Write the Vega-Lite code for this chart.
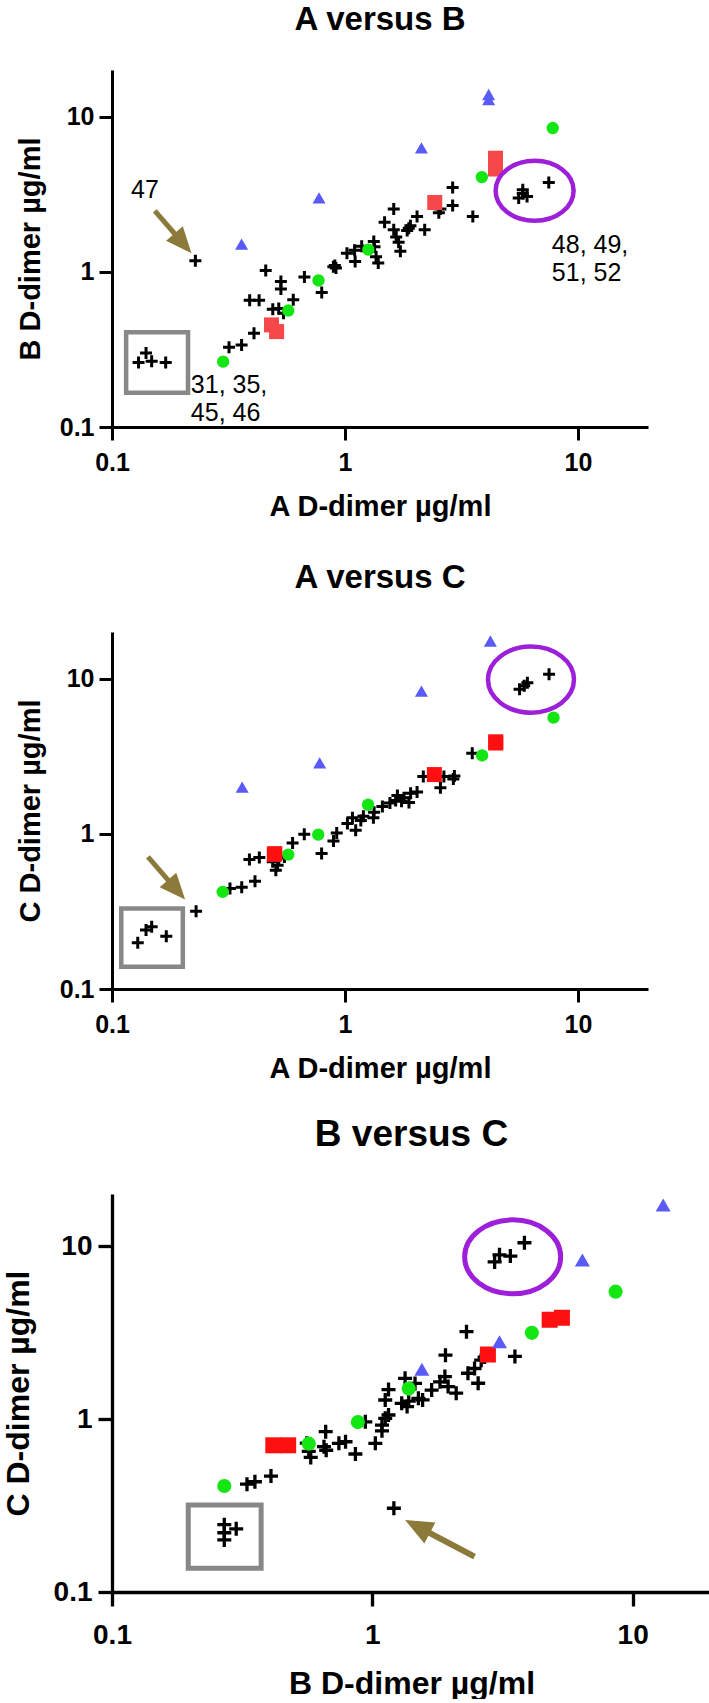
{
  "$schema": "https://vega.github.io/schema/vega-lite/v6.json",
  "background": "white",
  "padding": {"left": 2, "top": 4, "right": 0, "bottom": 0},
  "spacing": 205,
  "bounds": "flush",
  "config": {
    "view": {"stroke": null},
    "font": "Liberation Sans",
    "title": {"font": "Liberation Sans", "fontWeight": "bold", "color": "black", "anchor": "middle", "frame": "group"},
    "axis": {
      "grid": false, "domainColor": "black", "tickColor": "black",
      "labelFont": "Liberation Sans", "labelFontWeight": "bold", "labelColor": "black",
      "labelFlush": false, "labelOverlap": false,
      "titleFont": "Liberation Sans", "titleFontWeight": "bold", "titleColor": "black"
    }
  },
  "datasets": {
    "ab": [
      {"x":0.13,"y":0.26,"g":"k"},{"x":0.14,"y":0.30,"g":"k"},{"x":0.148,"y":0.265,"g":"k"},{"x":0.17,"y":0.26,"g":"k"},
      {"x":0.228,"y":1.18,"g":"k"},
      {"x":0.318,"y":0.327,"g":"k"},{"x":0.36,"y":0.338,"g":"k"},{"x":0.407,"y":0.402,"g":"k"},
      {"x":0.39,"y":0.655,"g":"k"},{"x":0.428,"y":0.655,"g":"k"},
      {"x":0.457,"y":1.02,"g":"k"},
      {"x":0.531,"y":0.866,"g":"k"},{"x":0.531,"y":0.775,"g":"k"},
      {"x":0.60,"y":0.66,"g":"k"},
      {"x":0.49,"y":0.575,"g":"k"},{"x":0.52,"y":0.58,"g":"k"},{"x":0.545,"y":0.54,"g":"k"},
      {"x":0.67,"y":0.925,"g":"k"},
      {"x":0.795,"y":0.735,"g":"k"},
      {"x":0.892,"y":1.08,"g":"k"},{"x":0.915,"y":1.06,"g":"k"},{"x":0.905,"y":1.1,"g":"k"},
      {"x":1.02,"y":1.32,"g":"k"},{"x":1.106,"y":1.165,"g":"k"},{"x":1.18,"y":1.46,"g":"k"},{"x":1.10,"y":1.38,"g":"k"},
      {"x":1.33,"y":1.57,"g":"k"},{"x":1.34,"y":1.45,"g":"k"},{"x":1.39,"y":1.14,"g":"k"},{"x":1.36,"y":1.25,"g":"k"},
      {"x":1.48,"y":2.09,"g":"k"},{"x":1.62,"y":2.54,"g":"k"},{"x":1.62,"y":1.87,"g":"k"},{"x":1.66,"y":1.68,"g":"k"},{"x":1.73,"y":1.36,"g":"k"},{"x":1.70,"y":1.55,"g":"k"},
      {"x":1.88,"y":1.91,"g":"k"},{"x":1.91,"y":1.98,"g":"k"},{"x":1.85,"y":1.85,"g":"k"},{"x":2.04,"y":2.27,"g":"k"},{"x":2.2,"y":1.87,"g":"k"},
      {"x":2.57,"y":2.54,"g":"k"},{"x":2.53,"y":2.40,"g":"k"},{"x":2.9,"y":3.5,"g":"k"},{"x":2.9,"y":2.68,"g":"k"},{"x":3.54,"y":2.27,"g":"k"},
      {"x":5.57,"y":2.99,"g":"k"},{"x":5.8,"y":3.38,"g":"k"},{"x":6.05,"y":3.06,"g":"k"},{"x":5.8,"y":3.2,"g":"k"},
      {"x":7.5,"y":3.77,"g":"k"},
      {"x":0.30,"y":0.264,"g":"g"},{"x":0.571,"y":0.563,"g":"g"},{"x":0.77,"y":0.88,"g":"g"},{"x":1.26,"y":1.39,"g":"g"},{"x":3.87,"y":4.08,"g":"g"},{"x":7.8,"y":8.45,"g":"g"},
      {"x":0.484,"y":0.455,"g":"r"},{"x":0.509,"y":0.412,"g":"r"},{"x":2.43,"y":2.8,"g":"r"},{"x":4.43,"y":4.6,"g":"r"},{"x":4.43,"y":5.4,"g":"r"},
      {"x":0.36,"y":1.51,"g":"b"},{"x":0.774,"y":3.0,"g":"b"},{"x":2.13,"y":6.3,"g":"b"},{"x":4.14,"y":12.9,"g":"b"},{"x":4.14,"y":13.9,"g":"b"}
    ],
    "ab_notes": [
      {"type":"box","x":0.115,"x2":0.212,"y":0.166,"y2":0.408},
      {"type":"ring","x":6.52,"y":3.33},
      {"type":"shaft","x":0.1527,"y":2.475,"x2":0.203,"y2":1.512},
      {"type":"head","x":0.2193,"y":1.32},
      {"type":"label","x":0.1207,"y":3.38,"t":"47"},
      {"type":"label","x":0.218,"y":0.1866,"t":"31, 35,"},
      {"type":"label","x":0.218,"y":0.1231,"t":"45, 46"},
      {"type":"label","x":7.73,"y":1.49,"t":"48, 49,"},
      {"type":"label","x":7.73,"y":0.985,"t":"51, 52"}
    ],
    "ac": [
      {"x":0.129,"y":0.199,"g":"k"},{"x":0.140,"y":0.240,"g":"k"},{"x":0.148,"y":0.252,"g":"k"},{"x":0.171,"y":0.219,"g":"k"},
      {"x":0.2296,"y":0.3175,"g":"k"},
      {"x":0.321,"y":0.444,"g":"k"},{"x":0.3605,"y":0.453,"g":"k"},{"x":0.411,"y":0.495,"g":"k"},
      {"x":0.389,"y":0.683,"g":"k"},{"x":0.429,"y":0.703,"g":"k"},
      {"x":0.514,"y":0.627,"g":"k"},{"x":0.505,"y":0.582,"g":"k"},{"x":0.49,"y":0.66,"g":"k"},{"x":0.52,"y":0.70,"g":"k"},{"x":0.55,"y":0.71,"g":"k"},
      {"x":0.596,"y":0.873,"g":"k"},
      {"x":0.669,"y":0.993,"g":"k"},
      {"x":0.794,"y":0.746,"g":"k"},
      {"x":0.893,"y":0.899,"g":"k"},{"x":0.922,"y":1.012,"g":"k"},
      {"x":1.025,"y":1.164,"g":"k"},{"x":1.077,"y":1.27,"g":"k"},{"x":1.112,"y":1.053,"g":"k"},{"x":1.17,"y":1.22,"g":"k"},{"x":1.2,"y":1.3,"g":"k"},
      {"x":1.325,"y":1.27,"g":"k"},{"x":1.334,"y":1.38,"g":"k"},{"x":1.448,"y":1.503,"g":"k"},{"x":1.56,"y":1.58,"g":"k"},
      {"x":1.651,"y":1.64,"g":"k"},{"x":1.68,"y":1.77,"g":"k"},{"x":1.793,"y":1.71,"g":"k"},{"x":1.914,"y":1.83,"g":"k"},{"x":2.04,"y":1.86,"g":"k"},{"x":1.883,"y":1.59,"g":"k"},{"x":1.75,"y":1.62,"g":"k"},
      {"x":2.17,"y":2.34,"g":"k"},{"x":2.57,"y":1.98,"g":"k"},{"x":2.66,"y":2.34,"g":"k"},{"x":2.92,"y":2.26,"g":"k"},{"x":2.95,"y":2.36,"g":"k"},
      {"x":3.52,"y":3.31,"g":"k"},
      {"x":5.62,"y":8.55,"g":"k"},{"x":5.88,"y":9.0,"g":"k"},{"x":6.07,"y":9.41,"g":"k"},{"x":7.52,"y":10.67,"g":"k"},
      {"x":0.2987,"y":0.4225,"g":"g"},{"x":0.571,"y":0.735,"g":"g"},{"x":0.768,"y":0.988,"g":"g"},{"x":1.257,"y":1.54,"g":"g"},{"x":3.88,"y":3.2,"g":"g"},{"x":7.86,"y":5.61,"g":"g"},
      {"x":0.4975,"y":0.738,"g":"r"},{"x":0.50,"y":0.745,"g":"r"},{"x":2.42,"y":2.41,"g":"r"},{"x":4.44,"y":3.85,"g":"r"},{"x":4.44,"y":3.92,"g":"r"},
      {"x":0.362,"y":2.0,"g":"b"},{"x":0.779,"y":2.87,"g":"b"},{"x":2.13,"y":8.32,"g":"b"},{"x":4.21,"y":17.5,"g":"b"}
    ],
    "ac_notes": [
      {"type":"box","x":0.1096,"x2":0.2014,"y":0.139,"y2":0.330},
      {"type":"ring","x":6.29,"y":9.87},
      {"type":"shaft","x":0.1427,"y":0.7096,"x2":0.1906,"y2":0.431},
      {"type":"head","x":0.206,"y":0.3775}
    ],
    "bc": [
      {"x":0.27,"y":0.20,"g":"k"},{"x":0.27,"y":0.22,"g":"k"},{"x":0.27,"y":0.245,"g":"k"},{"x":0.30,"y":0.232,"g":"k"},
      {"x":1.21,"y":0.305,"g":"k"},
      {"x":0.33,"y":0.42,"g":"k"},{"x":0.354,"y":0.434,"g":"k"},{"x":0.408,"y":0.468,"g":"k"},
      {"x":0.56,"y":0.725,"g":"k"},{"x":0.57,"y":0.65,"g":"k"},{"x":0.58,"y":0.60,"g":"k"},
      {"x":0.662,"y":0.845,"g":"k"},{"x":0.652,"y":0.692,"g":"k"},{"x":0.665,"y":0.66,"g":"k"},
      {"x":0.744,"y":0.724,"g":"k"},{"x":0.789,"y":0.739,"g":"k"},{"x":0.861,"y":0.628,"g":"k"},
      {"x":1.027,"y":0.724,"g":"k"},
      {"x":0.94,"y":0.964,"g":"k"},{"x":1.089,"y":0.923,"g":"k"},{"x":1.121,"y":1.009,"g":"k"},{"x":1.089,"y":0.855,"g":"k"},{"x":1.154,"y":1.055,"g":"k"},
      {"x":1.121,"y":1.288,"g":"k"},{"x":1.154,"y":1.48,"g":"k"},{"x":1.336,"y":1.72,"g":"k"},{"x":1.297,"y":1.232,"g":"k"},{"x":1.36,"y":1.18,"g":"k"},{"x":1.38,"y":1.27,"g":"k"},
      {"x":1.459,"y":1.607,"g":"k"},{"x":1.503,"y":1.318,"g":"k"},{"x":1.56,"y":1.29,"g":"k"},
      {"x":1.69,"y":1.47,"g":"k"},{"x":1.82,"y":1.64,"g":"k"},{"x":1.90,"y":1.76,"g":"k"},{"x":1.91,"y":2.34,"g":"k"},{"x":1.955,"y":1.54,"g":"k"},{"x":2.10,"y":1.41,"g":"k"},
      {"x":2.30,"y":3.2,"g":"k"},{"x":2.33,"y":1.84,"g":"k"},{"x":2.47,"y":1.96,"g":"k"},{"x":2.55,"y":1.61,"g":"k"},{"x":2.62,"y":2.19,"g":"k"},{"x":2.70,"y":2.28,"g":"k"},
      {"x":3.53,"y":2.30,"g":"k"},
      {"x":2.95,"y":8.1,"g":"k"},{"x":3.08,"y":8.9,"g":"k"},{"x":3.39,"y":8.75,"g":"k"},{"x":3.84,"y":10.45,"g":"k"},
      {"x":0.27,"y":0.41,"g":"g"},{"x":0.57,"y":0.72,"g":"g"},{"x":0.88,"y":0.96,"g":"g"},{"x":1.38,"y":1.50,"g":"g"},{"x":4.1,"y":3.15,"g":"g"},{"x":8.6,"y":5.45,"g":"g"},
      {"x":0.4165,"y":0.705,"g":"r"},{"x":0.475,"y":0.705,"g":"r"},{"x":2.78,"y":2.36,"g":"r"},{"x":4.8,"y":3.75,"g":"r"},{"x":5.35,"y":3.85,"g":"r"},
      {"x":1.55,"y":1.94,"g":"b"},{"x":3.08,"y":2.8,"g":"b"},{"x":6.41,"y":8.3,"g":"b"},{"x":13.1,"y":17.3,"g":"b"}
    ],
    "bc_notes": [
      {"type":"box","x":0.1963,"x2":0.374,"y":0.1372,"y2":0.3184},
      {"type":"ring","x":3.46,"y":8.67},
      {"type":"shaft","x":2.47,"y":0.16,"x2":1.49,"y2":0.2392},
      {"type":"head","x":1.336,"y":0.2608}
    ]
  },
  "vconcat": [
    {
      "title": {"text": "A versus B", "fontSize": 33, "offset": 33},
      "width": 536, "height": 357,
      "encoding": {
        "x": {"field": "x", "type": "quantitative", "scale": {"type": "log", "domain": [0.1, 20], "nice": false},
              "axis": {"title": "A D-dimer µg/ml", "values": [0.1, 1, 10], "format": "~g", "domainWidth": 3, "tickWidth": 3, "tickSize": 13, "labelFontSize": 25, "labelPadding": 10, "titleFontSize": 29, "titlePadding": 17}},
        "y": {"field": "y", "type": "quantitative", "scale": {"type": "log", "domain": [0.1, 20], "nice": false},
              "axis": {"title": "B D-dimer µg/ml", "values": [0.1, 1, 10], "format": "~g", "domainWidth": 3, "tickWidth": 3, "tickSize": 13, "labelFontSize": 25, "labelPadding": 5, "titleFontSize": 29, "titlePadding": 14}}
      },
      "layer": [
        {"data": {"name": "ab"}, "transform": [{"filter": "datum.g === 'k'"}],
         "mark": {"type": "point", "shape": "M-1,0H1M0,-1V1", "filled": false, "color": "black", "strokeWidth": 3, "size": 144, "opacity": 1}},
        {"data": {"name": "ab"}, "transform": [{"filter": "datum.g === 'g'"}],
         "mark": {"type": "point", "shape": "circle", "filled": true, "color": "#13e613", "size": 154, "opacity": 1}},
        {"data": {"name": "ab"}, "transform": [{"filter": "datum.g === 'r'"}],
         "mark": {"type": "point", "shape": "square", "filled": true, "color": "#f64848", "size": 225, "opacity": 1}},
        {"data": {"name": "ab"}, "transform": [{"filter": "datum.g === 'b'"}],
         "mark": {"type": "point", "shape": "triangle-up", "filled": true, "color": "#5a5af7", "size": 170, "opacity": 1}},
        {"data": {"name": "ab_notes"}, "transform": [{"filter": "datum.type === 'box'"}],
         "mark": {"type": "rect", "filled": false, "color": "#888888", "strokeWidth": 4.5},
         "encoding": {"x2": {"field": "x2"}, "y2": {"field": "y2"}}},
        {"data": {"name": "ab_notes"}, "transform": [{"filter": "datum.type === 'ring'"}],
         "mark": {"type": "point", "shape": "M-1,0A1,0.77,0,1,1,1,0A1,0.77,0,1,1,-1,0Z", "filled": false, "color": "#9d1fd9", "strokeWidth": 4.5, "size": 6084, "opacity": 1}},
        {"data": {"name": "ab_notes"}, "transform": [{"filter": "datum.type === 'shaft'"}],
         "mark": {"type": "rule", "color": "#8b7a3a", "strokeWidth": 5},
         "encoding": {"x2": {"field": "x2"}, "y2": {"field": "y2"}}},
        {"data": {"name": "ab_notes"}, "transform": [{"filter": "datum.type === 'head'"}],
         "mark": {"type": "point", "shape": "M0,0L0.85,2L-0.85,2Z", "filled": true, "color": "#8b7a3a", "size": 676, "angle": 139.2, "opacity": 1}},
        {"data": {"name": "ab_notes"}, "transform": [{"filter": "datum.type === 'label'"}],
         "mark": {"type": "text", "align": "left", "baseline": "middle", "font": "Liberation Sans", "fontSize": 25, "color": "black"},
         "encoding": {"text": {"field": "t"}}}
      ]
    },
    {
      "title": {"text": "A versus C", "fontSize": 33, "offset": 37},
      "width": 536, "height": 357,
      "encoding": {
        "x": {"field": "x", "type": "quantitative", "scale": {"type": "log", "domain": [0.1, 20], "nice": false},
              "axis": {"title": "A D-dimer µg/ml", "values": [0.1, 1, 10], "format": "~g", "domainWidth": 3, "tickWidth": 3, "tickSize": 13, "labelFontSize": 25, "labelPadding": 10, "titleFontSize": 29, "titlePadding": 17}},
        "y": {"field": "y", "type": "quantitative", "scale": {"type": "log", "domain": [0.1, 20], "nice": false},
              "axis": {"title": "C D-dimer µg/ml", "values": [0.1, 1, 10], "format": "~g", "domainWidth": 3, "tickWidth": 3, "tickSize": 13, "labelFontSize": 25, "labelPadding": 5, "titleFontSize": 29, "titlePadding": 14}}
      },
      "layer": [
        {"data": {"name": "ac"}, "transform": [{"filter": "datum.g === 'k'"}],
         "mark": {"type": "point", "shape": "M-1,0H1M0,-1V1", "filled": false, "color": "black", "strokeWidth": 3, "size": 144, "opacity": 1}},
        {"data": {"name": "ac"}, "transform": [{"filter": "datum.g === 'g'"}],
         "mark": {"type": "point", "shape": "circle", "filled": true, "color": "#13e613", "size": 154, "opacity": 1}},
        {"data": {"name": "ac"}, "transform": [{"filter": "datum.g === 'r'"}],
         "mark": {"type": "point", "shape": "square", "filled": true, "color": "#ff1010", "size": 225, "opacity": 1}},
        {"data": {"name": "ac"}, "transform": [{"filter": "datum.g === 'b'"}],
         "mark": {"type": "point", "shape": "triangle-up", "filled": true, "color": "#5a5af7", "size": 170, "opacity": 1}},
        {"data": {"name": "ac_notes"}, "transform": [{"filter": "datum.type === 'box'"}],
         "mark": {"type": "rect", "filled": false, "color": "#888888", "strokeWidth": 4.5},
         "encoding": {"x2": {"field": "x2"}, "y2": {"field": "y2"}}},
        {"data": {"name": "ac_notes"}, "transform": [{"filter": "datum.type === 'ring'"}],
         "mark": {"type": "point", "shape": "M-1,0A1,0.77,0,1,1,1,0A1,0.77,0,1,1,-1,0Z", "filled": false, "color": "#9d1fd9", "strokeWidth": 4.5, "size": 7396, "opacity": 1}},
        {"data": {"name": "ac_notes"}, "transform": [{"filter": "datum.type === 'shaft'"}],
         "mark": {"type": "rule", "color": "#8b7a3a", "strokeWidth": 5},
         "encoding": {"x2": {"field": "x2"}, "y2": {"field": "y2"}}},
        {"data": {"name": "ac_notes"}, "transform": [{"filter": "datum.type === 'head'"}],
         "mark": {"type": "point", "shape": "M0,0L0.85,2L-0.85,2Z", "filled": true, "color": "#8b7a3a", "size": 676, "angle": 138.8, "opacity": 1}}
      ]
    },
    {
      "title": {"text": "B versus C", "fontSize": 37, "offset": 40},
      "width": 599, "height": 398,
      "encoding": {
        "x": {"field": "x", "type": "quantitative", "scale": {"type": "log", "domain": [0.1, 20], "nice": false},
              "axis": {"title": "B D-dimer µg/ml", "values": [0.1, 1, 10], "format": "~g", "domainWidth": 3.3, "tickWidth": 3.3, "tickSize": 14, "labelFontSize": 28, "labelPadding": 15, "titleFontSize": 32, "titlePadding": 19}},
        "y": {"field": "y", "type": "quantitative", "scale": {"type": "log", "domain": [0.1, 20], "nice": false},
              "axis": {"title": "C D-dimer µg/ml", "values": [0.1, 1, 10], "format": "~g", "domainWidth": 3.3, "tickWidth": 3.3, "tickSize": 14, "labelFontSize": 28, "labelPadding": 6, "titleFontSize": 32, "titlePadding": 18}}
      },
      "layer": [
        {"data": {"name": "bc"}, "transform": [{"filter": "datum.g === 'k'"}],
         "mark": {"type": "point", "shape": "M-1,0H1M0,-1V1", "filled": false, "color": "black", "strokeWidth": 3.3, "size": 196, "opacity": 1}},
        {"data": {"name": "bc"}, "transform": [{"filter": "datum.g === 'g'"}],
         "mark": {"type": "point", "shape": "circle", "filled": true, "color": "#13e613", "size": 201, "opacity": 1}},
        {"data": {"name": "bc"}, "transform": [{"filter": "datum.g === 'r'"}],
         "mark": {"type": "point", "shape": "square", "filled": true, "color": "#ff1010", "size": 256, "opacity": 1}},
        {"data": {"name": "bc"}, "transform": [{"filter": "datum.g === 'b'"}],
         "mark": {"type": "point", "shape": "triangle-up", "filled": true, "color": "#5a5af7", "size": 225, "opacity": 1}},
        {"data": {"name": "bc_notes"}, "transform": [{"filter": "datum.type === 'box'"}],
         "mark": {"type": "rect", "filled": false, "color": "#888888", "strokeWidth": 5},
         "encoding": {"x2": {"field": "x2"}, "y2": {"field": "y2"}}},
        {"data": {"name": "bc_notes"}, "transform": [{"filter": "datum.type === 'ring'"}],
         "mark": {"type": "point", "shape": "M-1,0A1,0.77,0,1,1,1,0A1,0.77,0,1,1,-1,0Z", "filled": false, "color": "#9d1fd9", "strokeWidth": 5, "size": 9216, "opacity": 1}},
        {"data": {"name": "bc_notes"}, "transform": [{"filter": "datum.type === 'shaft'"}],
         "mark": {"type": "rule", "color": "#8b7a3a", "strokeWidth": 6},
         "encoding": {"x2": {"field": "x2"}, "y2": {"field": "y2"}}},
        {"data": {"name": "bc_notes"}, "transform": [{"filter": "datum.type === 'head'"}],
         "mark": {"type": "point", "shape": "M0,0L0.85,2L-0.85,2Z", "filled": true, "color": "#8b7a3a", "size": 784, "angle": 297.6, "opacity": 1}}
      ]
    }
  ]
}
